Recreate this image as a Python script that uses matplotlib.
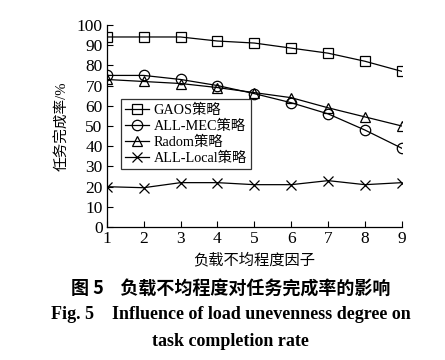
import matplotlib
matplotlib.use("Agg")
import matplotlib.pyplot as plt

plt.rcParams['font.family'] = ['Liberation Serif', 'Noto Sans CJK SC']
plt.rcParams['mathtext.fontset'] = 'stix'

x = [1, 2, 3, 4, 5, 6, 7, 8, 9]
gaos = [94, 94, 94, 92, 91, 88.5, 86, 82, 77]
all_mec = [75, 75, 73, 70, 66, 61.5, 56, 48, 39]
radom = [73, 72, 71, 69, 66.5, 64, 59, 54.5, 50]
all_local = [20, 19.5, 22, 22, 21, 21, 23, 21, 22]
labels = ['GAOS策略', 'ALL-MEC策略', 'Radom策略', 'ALL-Local策略']
yticks = list(range(0, 101, 10))

fig = plt.figure(figsize=(4.45, 3.6), dpi=100)
ax = fig.add_axes([0.240, 0.369, 0.663, 0.562])

common = dict(color='black', linewidth=0.9, markersize=7.5, markerfacecolor='none',
              markeredgecolor='black', markeredgewidth=0.9)
ax.plot(x, gaos, marker='s', label=labels[0], **common)
ax.plot(x, all_mec, marker='o', label=labels[1], **common)
ax.plot(x, radom, marker='^', label=labels[2], **common)
ax.plot(x, all_local, marker='x', label=labels[3], **common)

ax.set_xlim(1, 9)
ax.set_ylim(0, 100)
ax.set_xticks(x)
ax.set_yticks(yticks)
ax.spines['top'].set_visible(False)
ax.spines['right'].set_visible(False)
ax.tick_params(direction='in', length=4, width=0.8, labelsize=12.5, pad=3)
for s in ['left', 'bottom']:
    ax.spines[s].set_linewidth(0.9)

ax.set_xlabel('负载不均程度因子', fontsize=11, labelpad=4)
ax.set_ylabel('任务完成率/%', fontsize=10.5, labelpad=5)

leg = ax.legend(loc='upper left', bbox_to_anchor=(0.047, 0.632), fontsize=10.3,
                frameon=True, fancybox=False, edgecolor='black', handlelength=1.7,
                handletextpad=0.3, borderpad=0.3, labelspacing=0.2, borderaxespad=0)
leg.get_frame().set_linewidth(0.9)

fig.text(0.519, 0.196, '图 5    负载不均程度对任务完成率的影响', ha='center', va='center',
         fontsize=13, fontweight='bold', family=['Noto Sans CJK SC'])
fig.text(0.518, 0.126, 'Fig. 5    Influence of load unevenness degree on', ha='center',
         va='center', fontsize=13, fontweight='bold')
fig.text(0.518, 0.050, 'task completion rate', ha='center', va='center',
         fontsize=13, fontweight='bold')

fig.savefig('out.png', dpi=100)
